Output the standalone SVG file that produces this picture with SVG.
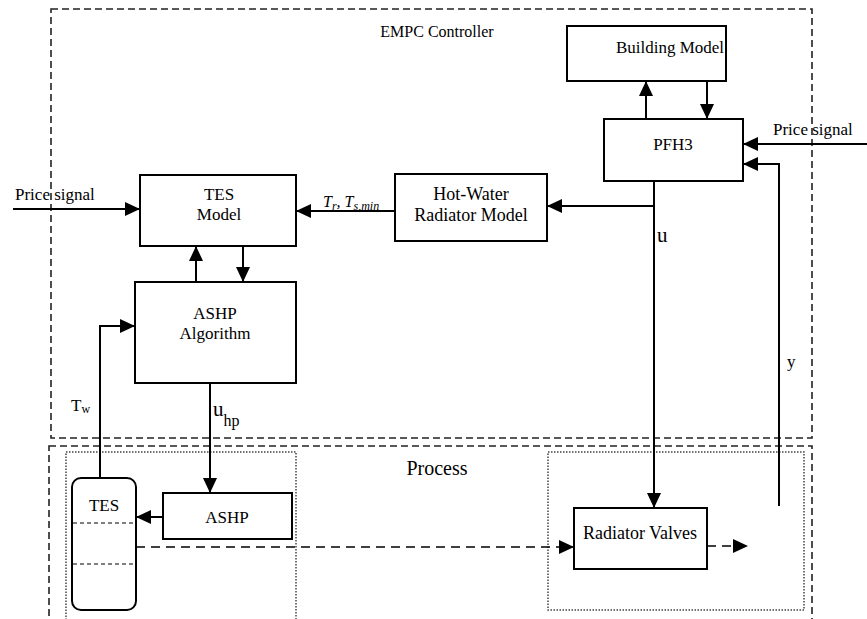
<svg xmlns="http://www.w3.org/2000/svg" width="867" height="619" viewBox="0 0 867 619" font-family="Liberation Serif, serif">
<defs>
<style>
.box{fill:#fff;stroke:#000;stroke-width:2}
.t{font-size:17px;fill:#000;text-anchor:middle}
.tl{font-size:17px;fill:#000}
.c{fill:none;stroke:#000;stroke-width:2}
.dash{fill:none;stroke:#222;stroke-width:1.6;stroke-dasharray:7,4}
.dot{fill:none;stroke:#444;stroke-width:1.5;stroke-dasharray:1.5,1.5}
</style>
<marker id="ah" viewBox="0 0 15 14" refX="15" refY="7" markerWidth="15" markerHeight="14" markerUnits="userSpaceOnUse" orient="auto">
<path d="M0,0 L15,7 L0,14 z" fill="#000"/>
</marker>
</defs>
<rect width="867" height="619" fill="#fff"/>

<g id="frames">
<rect class="dash" x="51" y="9" width="761" height="429"/>
<rect class="dash" x="49" y="446" width="763" height="180"/>
<rect class="dot" x="66" y="452" width="230" height="175"/>
<rect class="dot" x="548" y="452" width="256" height="158"/>
<text class="t" x="437" y="37" font-family="Liberation Serif, serif" style="font-size:16px">EMPC Controller</text>
<text class="t" x="437" y="475" font-family="Liberation Serif, serif" style="font-size:20px">Process</text>
</g>

<g id="building-model">
<rect class="box" x="567" y="26" width="159" height="55"/>
<text class="t" x="670" y="53" font-family="Liberation Serif, serif">Building Model</text>
</g>
<g id="pfh3">
<rect class="box" x="604" y="119" width="139" height="62"/>
<text class="t" x="673" y="150" font-family="Liberation Serif, serif">PFH3</text>
</g>
<g id="hot-water">
<rect class="box" x="395" y="174" width="152" height="67"/>
<text class="t" x="471" y="200" font-family="Liberation Serif, serif" style="font-size:18px">Hot-Water</text>
<text class="t" x="471" y="221" font-family="Liberation Serif, serif" style="font-size:18px">Radiator Model</text>
</g>
<g id="tes-model">
<rect class="box" x="140" y="175" width="156" height="71"/>
<text class="t" x="219" y="200" font-family="Liberation Serif, serif">TES</text>
<text class="t" x="219" y="220" font-family="Liberation Serif, serif">Model</text>
</g>
<g id="ashp-algorithm">
<rect class="box" x="135" y="282" width="161" height="101"/>
<text class="t" x="215" y="319" font-family="Liberation Serif, serif">ASHP</text>
<text class="t" x="215" y="339" font-family="Liberation Serif, serif">Algorithm</text>
</g>
<g id="tes">
<rect class="box" x="72" y="478" width="64" height="132" rx="9"/>
<line x1="73" y1="523" x2="135" y2="523" stroke="#000" stroke-width="1" stroke-dasharray="4,3"/>
<line x1="73" y1="564" x2="135" y2="564" stroke="#000" stroke-width="1" stroke-dasharray="4,3"/>
<text class="t" x="104" y="511" font-family="Liberation Serif, serif">TES</text>
</g>
<g id="ashp">
<rect class="box" x="163" y="493" width="129" height="46"/>
<text class="t" x="227" y="523" font-family="Liberation Serif, serif">ASHP</text>
</g>
<g id="radiator-valves">
<rect class="box" x="574" y="508" width="133" height="61"/>
<text class="t" x="640" y="539" font-family="Liberation Serif, serif" style="font-size:18px">Radiator Valves</text>
</g>

<g id="connectors">
<line class="c" x1="646" y1="119" x2="646" y2="81" marker-end="url(#ah)"/>
<line class="c" x1="707" y1="81" x2="707" y2="119" marker-end="url(#ah)"/>
<line class="c" x1="867" y1="144" x2="743" y2="144" marker-end="url(#ah)"/>
<polyline class="c" points="779,506 779,164 743,164" marker-end="url(#ah)"/>
<line class="c" x1="654" y1="181" x2="654" y2="508" marker-end="url(#ah)"/>
<line class="c" x1="654" y1="206" x2="547" y2="206" marker-end="url(#ah)"/>
<line class="c" x1="395" y1="211" x2="296" y2="211" marker-end="url(#ah)"/>
<line class="c" x1="13" y1="209" x2="140" y2="209" marker-end="url(#ah)"/>
<line class="c" x1="196" y1="282" x2="196" y2="246" marker-end="url(#ah)"/>
<line class="c" x1="243" y1="246" x2="243" y2="282" marker-end="url(#ah)"/>
<polyline class="c" points="100,478 100,326 135,326" marker-end="url(#ah)"/>
<line class="c" x1="210" y1="383" x2="210" y2="493" marker-end="url(#ah)"/>
<line class="c" x1="163" y1="517" x2="136" y2="517" marker-end="url(#ah)"/>
<line x1="136" y1="547" x2="574" y2="547" stroke="#000" stroke-width="1.6" stroke-dasharray="9,6" marker-end="url(#ah)"/>
<line x1="707" y1="546" x2="748" y2="546" stroke="#000" stroke-width="1.6" stroke-dasharray="9,6" marker-end="url(#ah)"/>
<text class="tl" x="15" y="200" font-family="Liberation Serif, serif">Price signal</text>
<text class="tl" x="773" y="135" font-family="Liberation Serif, serif">Price signal</text>
<text class="tl" x="323" y="207" font-family="Liberation Serif, serif" font-style="italic" style="font-size:16px">T<tspan font-size="12" dy="3">r</tspan><tspan dy="-3">, T</tspan><tspan font-size="12" dy="3">s,min</tspan></text>
<text class="tl" x="657" y="242" font-family="Liberation Serif, serif" style="font-size:21px">u</text>
<text class="tl" x="787" y="367" font-family="Liberation Serif, serif">y</text>
<text class="tl" x="71" y="411" font-family="Liberation Serif, serif">T<tspan font-size="12" dy="2">w</tspan></text>
<text class="tl" x="213" y="416" font-family="Liberation Serif, serif" style="font-size:21px">u<tspan font-size="16" dy="10">hp</tspan></text>
</g>
</svg>
